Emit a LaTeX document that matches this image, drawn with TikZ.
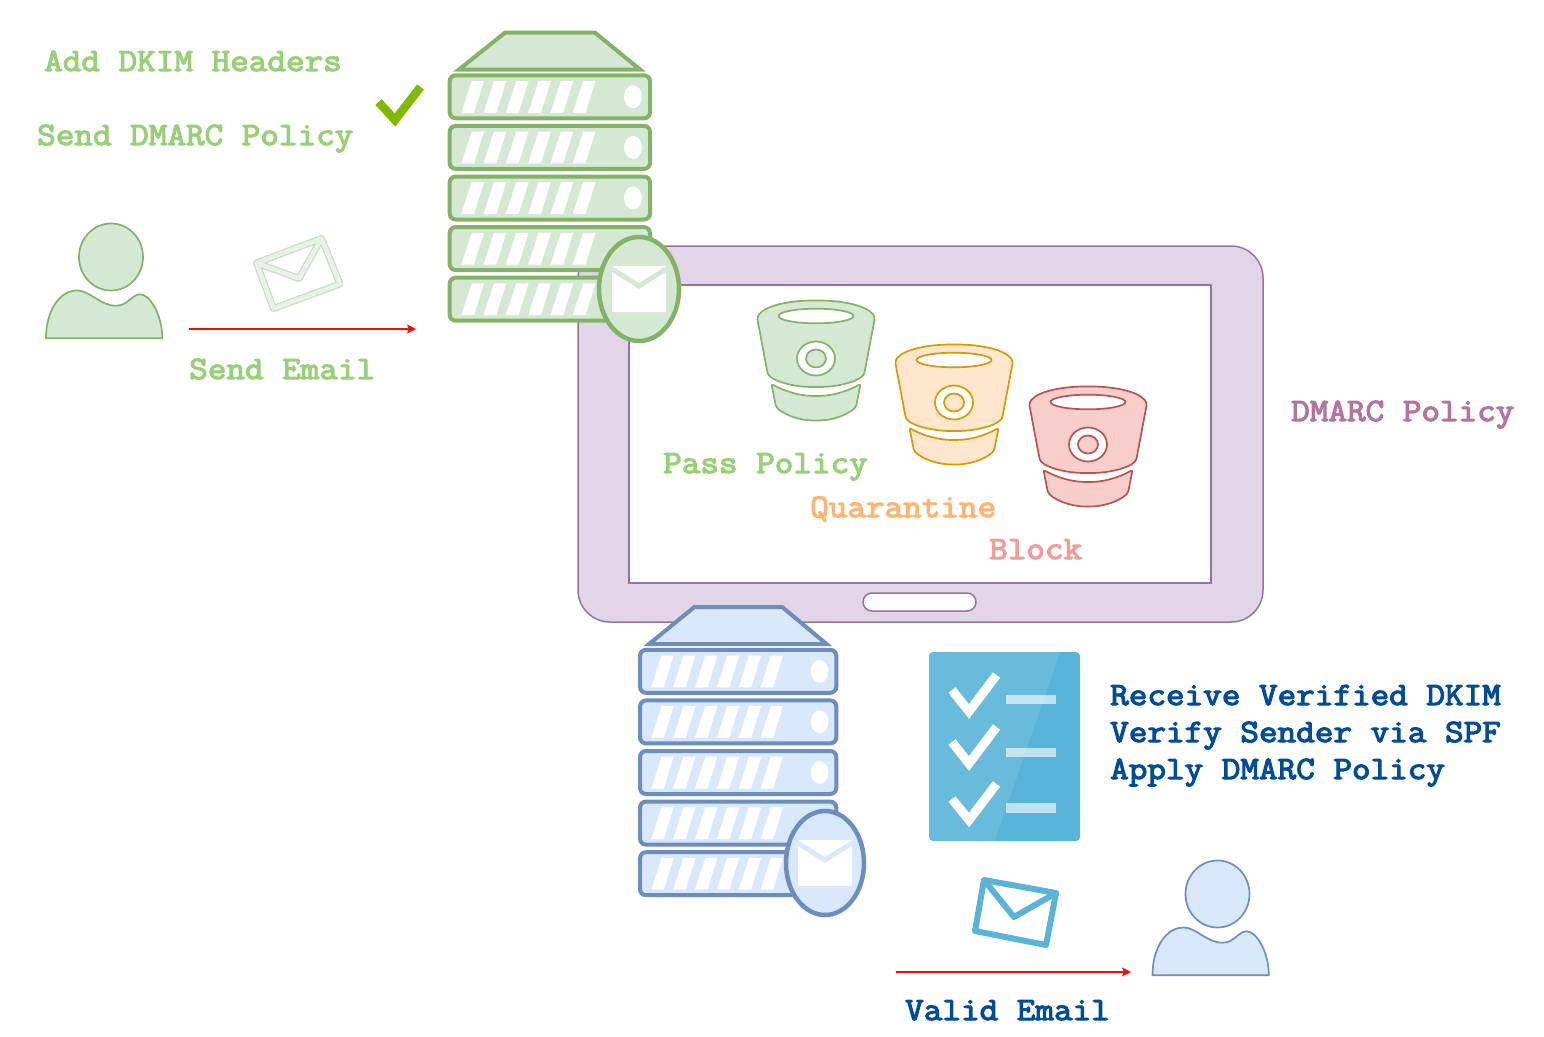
\documentclass[tikz,border=0pt]{standalone}
\usepackage{fontspec}
\newfontfamily\lblfont[FakeBold=3.6,FakeStretch=1.108]{Latin Modern Mono}
\usetikzlibrary{arrows.meta}
\definecolor{gfill}{HTML}{D5E8D4}\definecolor{gline}{HTML}{82B366}
\definecolor{ofill}{HTML}{FFE6CC}\definecolor{oline}{HTML}{D79B00}
\definecolor{rfill}{HTML}{F8CECC}\definecolor{rline}{HTML}{B85450}
\definecolor{bfill}{HTML}{DAE8FC}\definecolor{bline}{HTML}{6C8EBF}
\definecolor{pfill}{HTML}{E1D5E7}\definecolor{pline}{HTML}{9673A6}
\definecolor{gtext}{HTML}{97D077}\definecolor{otext}{HTML}{FFB570}
\definecolor{rtext}{HTML}{F19C99}\definecolor{ptext}{HTML}{B5739D}
\definecolor{btext}{HTML}{004C99}\definecolor{azure}{HTML}{59B4D9}
\definecolor{lime}{HTML}{7FBA00}\definecolor{redline}{HTML}{F01000}
\definecolor{envedge}{HTML}{C6DEC4}\definecolor{envbody}{HTML}{E8F2E7}
\tikzset{
  lbl/.style={anchor=base west,inner sep=0pt,font=\fontsize{32.6}{36}\lblfont},
  redarrow/.style={draw=redline,line width=2pt,-{Stealth[length=9pt,width=9pt,inset=2pt]}},
  chk/.style={draw=white,line width=9pt,miter limit=10},
  bar/.style={fill=white,fill opacity=.62},
}
\newcommand{\srvdraw}[2]{%
  \draw[line width=4pt,draw=#2,fill=#1,line join=miter] (459,69.5)--(505,32.7)--(595,32.7)--(640,69.5)--cycle;
  \foreach \t in {75.3,125.9,176.5,227.1,277.7}{%
    \draw[line width=4pt,draw=#2,fill=#1,rounded corners=6pt] (449.7,\t) rectangle (650,\t+43);
    \foreach \k in {0,...,5}{%
      \fill[white] (461.2+22.3*\k,\t+37.5)--(471.7+22.3*\k,\t+5.7)--(484+22.3*\k,\t+5.7)--(474+22.3*\k,\t+37.5)--cycle;
    }
    \fill[white] (633,\t+21.4) ellipse[x radius=9,y radius=11.5];
  }
}
\newcommand{\badge}[6]{% cx cy rx ry fill line
  \draw[line width=4.5pt,draw=#6,fill=#5] (#1,#2) ellipse[x radius=#3,y radius=#4];
  \fill[white] (#1-27,#2-23)--(#1+27,#2-23)--(#1,#2-6)--cycle;
  \fill[white] (#1-27,#2-17)--(#1,#2)--(#1+27,#2-17)--(#1+27,#2+23)--(#1-27,#2+23)--cycle;
}
\newcommand{\bucket}[4]{% cx top fill line
  \begin{scope}[shift={(#1,#2)},line width=1.7pt,draw=#4,fill=#3]
    \draw[draw=#4,fill=#3,rounded corners=3pt] (-59,17) .. controls (-50,5) and (-25,0.5) .. (0,0.5) .. controls (25,0.5) and (50,5) .. (59,17) -- (49,70) .. controls (47,80) and (25,87) .. (0,87) .. controls (-25,87) and (-47,80) .. (-49,70) -- cycle;
    \draw[draw=#4,fill=white] (0,16) ellipse[x radius=37.5,y radius=7.3];
    \draw[draw=#4,fill=white] (0,58.5) ellipse[x radius=19,y radius=17];
    \draw[draw=#4,fill=#3] (0,58.5) ellipse[x radius=10,y radius=9];
    \draw[draw=#4,fill=#3,rounded corners=2pt] (-44.5,84) .. controls (-30,92) and (-15,96) .. (0,96) .. controls (15,96) and (30,92) .. (44.5,84) -- (40,107) .. controls (30,116) and (15,120.5) .. (0,120.5) .. controls (-15,120.5) and (-30,116) .. (-40,107) -- cycle;
  \end{scope}
}
\newcommand{\person}[4]{% dx dy fill line
  \begin{scope}[shift={(#1,#2)}]
    \draw[line width=1.7pt,draw=#4,fill=#3] (111,257) ellipse[x radius=32,y radius=33.5];
    \draw[line width=1.7pt,draw=#4,fill=#3] (46,338.3) .. controls (46,310) and (60,290.5) .. (77,290.5) .. controls (90,290.5) and (100,305.7) .. (116,305.7) .. controls (128,305.7) and (132,294.3) .. (140,294.3) .. controls (150,294.3) and (162.3,315) .. (162.3,338.3) -- cycle;
  \end{scope}
}
\newcommand{\envpath}[1]{%
  \draw[#1,line join=round] (256.5,263)--(321.5,238.5)--(340,284)--(273.5,308.5)--cycle (256.5,263)--(299,278.5)--(321.5,238.5);
}
\begin{document}
\begin{tikzpicture}[x=1pt,y=-1pt]
\useasboundingbox (0,0) rectangle (1544,1036);
% tablet
\draw[line width=1.5pt,draw=pline,fill=pfill,rounded corners=32pt] (578,246) rectangle (1263,622);
\draw[line width=1.5pt,draw=pline,fill=white] (629,285) rectangle (1211,583);
\draw[line width=1.5pt,draw=pline,fill=white,rounded corners=9pt] (863,593) rectangle (976,611);
% green server
\srvdraw{gfill}{gline}
\badge{639}{289}{40}{52}{gfill}{gline}
% blue server
\begin{scope}[shift={(199.3,574.5)},xscale=.98]
\srvdraw{bfill}{bline}
\end{scope}
\badge{825}{863}{39}{52}{bfill}{bline}
% buckets
\bucket{816}{300}{gfill}{gline}
\bucket{954}{344}{ofill}{oline}
\bucket{1088}{386}{rfill}{rline}
% people
\person{0}{0}{gfill}{gline}
\person{1106.5}{637}{bfill}{bline}
% green tick
\draw[line width=8.5pt,draw=lime] (378.5,102)--(395,120)--(420.5,87);
% translucent envelope
\envpath{line width=7pt,draw=envedge}
\envpath{line width=4.6pt,draw=envbody}
% checklist
\fill[azure,rounded corners=4pt] (929,652) rectangle (1080,841);
\begin{scope}
\clip[rounded corners=4pt] (929,652) rectangle (1080,841);
\fill[white,opacity=.1] (925,648) -- (1061.5,648) -- (993.3,845) -- (925,845) -- cycle;
\end{scope}
\draw[chk] (952,690)--(969,711.5)--(996.5,675);
\draw[chk] (952,742)--(969,763.5)--(996.5,727);
\draw[chk] (952,799)--(969,820)--(996.5,784);
\fill[bar] (1005.7,695) rectangle (1056,704.3);
\fill[bar] (1005.7,747.7) rectangle (1056,757.3);
\fill[bar] (1005.7,803.3) rectangle (1056,812.7);
% blue envelope
\draw[line width=6pt,draw=azure,line join=round] (984,880)--(1056,893)--(1046,945)--(975,931)--cycle;
\draw[line width=6pt,draw=azure,line join=round] (984,880)--(1014,917)--(1056,893);
% arrows
\coordinate (sendA) at (189,329);
\coordinate (sendB) at (416,329);
\coordinate (validA) at (896,972);
\coordinate (validB) at (1131,972);
\draw[redarrow] (sendA) -- (sendB);
\draw[redarrow] (validA) -- (validB);
% labels
\node[lbl,text=gtext] (dkim) at (44,71) {Add DKIM Headers};
\node[lbl,text=gtext] (dmarcsend) at (37,145) {Send DMARC Policy};
\node[lbl,text=gtext] (sendmail) at (189,379) {Send Email};
\node[lbl,text=gtext] (pass) at (663,473) {Pass Policy};
\node[lbl,text=otext] (quar) at (810,517) {Quarantine};
\node[lbl,text=rtext] (block) at (989,559) {Block};
\node[lbl,text=ptext] (policy) at (1291,421) {DMARC Policy};
\node[lbl,text=btext] (recv) at (1110,705) {Receive Verified DKIM};
\node[lbl,text=btext] (verify) at (1110,742) {Verify Sender via SPF};
\node[lbl,text=btext] (apply) at (1110,779) {Apply DMARC Policy};
\node[lbl,text=btext] (valid) at (905,1020) {Valid Email};
\end{tikzpicture}
\end{document}
